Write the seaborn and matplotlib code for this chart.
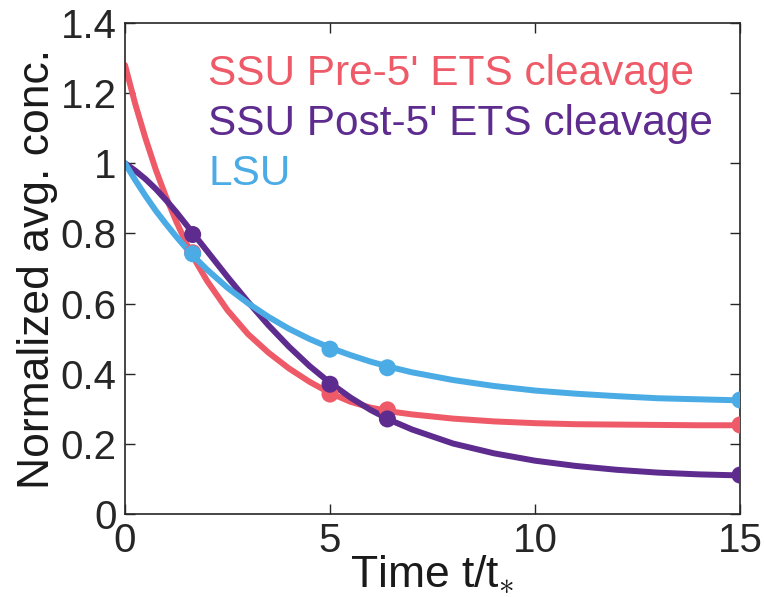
import numpy as np
import pandas as pd
import matplotlib
matplotlib.use("Agg")
import matplotlib.pyplot as plt
import seaborn as sns

# ---- data ----
series_names = ["SSU Pre-5' ETS cleavage", "SSU Post-5' ETS cleavage", "LSU"]
colors = ["#EE5A68", "#5E2B8E", "#4AABE5"]

t_curve = [0, 0.25, 0.5, 0.75, 1, 1.25, 1.5, 1.75, 2, 2.5, 3, 3.5, 4, 4.5, 5,
           5.5, 6, 6.5, 7, 8, 9, 10, 11, 12, 13, 14, 15]
pre_curve = [1.28, 1.169, 1.071, 0.982, 0.904, 0.834, 0.771, 0.715, 0.665, 0.581,
             0.513, 0.460, 0.415, 0.377, 0.345, 0.320, 0.303, 0.292, 0.284, 0.272,
             0.264, 0.259, 0.256, 0.255, 0.254, 0.253, 0.253]
post_curve = [1.0, 0.979, 0.955, 0.927, 0.895, 0.861, 0.824, 0.787, 0.750, 0.676,
              0.605, 0.538, 0.477, 0.422, 0.374, 0.332, 0.296, 0.266, 0.241, 0.201,
              0.173, 0.152, 0.137, 0.126, 0.118, 0.113, 0.110]
lsu_curve = [1.0, 0.952, 0.907, 0.865, 0.827, 0.791, 0.757, 0.726, 0.697, 0.645,
             0.601, 0.562, 0.528, 0.499, 0.474, 0.453, 0.434, 0.418, 0.404, 0.382,
             0.365, 0.352, 0.343, 0.336, 0.330, 0.327, 0.324]

t_points = [1.65, 5, 6.4, 15]
pre_points = [0.745, 0.342, 0.297, 0.254]
post_points = [0.797, 0.370, 0.271, 0.111]
lsu_points = [0.742, 0.470, 0.417, 0.325]

xticks = [0, 5, 10, 15]
yticks = [0, 0.2, 0.4, 0.6, 0.8, 1, 1.2, 1.4]
ytick_labels = ["0", "0.2", "0.4", "0.6", "0.8", "1", "1.2", "1.4"]

# ---- build tables ----
curves = pd.DataFrame({
    "t": t_curve * 3,
    "y": pre_curve + post_curve + lsu_curve,
    "series": [s for s in series_names for _ in t_curve],
})
points = pd.DataFrame({
    "t": t_points * 3,
    "y": pre_points + post_points + lsu_points,
    "series": [s for s in series_names for _ in t_points],
})
palette = dict(zip(series_names, colors))

sns.set_theme(style="ticks")
plt.rcParams["font.family"] = ["Liberation Sans", "DejaVu Sans"]
plt.rcParams["mathtext.fontset"] = "custom"
plt.rcParams["mathtext.rm"] = "Liberation Sans"
plt.rcParams["mathtext.it"] = "Liberation Sans:italic"

fig = plt.figure(figsize=(7.64, 5.97), dpi=100)
ax = fig.add_axes([125 / 764, 1 - 514 / 597, 615 / 764, 491 / 597])

sns.lineplot(data=curves, x="t", y="y", hue="series", palette=palette,
             hue_order=series_names, linewidth=4.3, sort=False, legend=False,
             ax=ax, zorder=2)
sns.scatterplot(data=points, x="t", y="y", hue="series", palette=palette,
                hue_order=series_names, s=150, linewidth=0, legend=False,
                ax=ax, zorder=3)

ax.set_xlim(0, 15)
ax.set_ylim(0, 1.4)
ax.set_xticks(xticks)
ax.set_xticklabels([str(v) for v in xticks])
ax.set_yticks(yticks)
ax.set_yticklabels(ytick_labels)
ax.tick_params(direction="in", length=7, width=1, top=True, right=True,
               labelsize=29, colors="#262626", pad=6)
for sp in ax.spines.values():
    sp.set_visible(True)
    sp.set_linewidth(1.2)
    sp.set_color("#262626")

ax.set_xlabel(r"Time t/t$_{\ast}$", fontsize=32, color="#1a1a1a", labelpad=-4)
ax.set_ylabel("Normalized avg. conc.", fontsize=32, color="#1a1a1a", labelpad=2)

ys = [0.874, 0.772, 0.670]
for name, col, yy in zip(series_names, colors, ys):
    ax.text(0.135, yy, name, color=col, fontsize=30.5, transform=ax.transAxes,
            ha="left", va="baseline")

fig.savefig("out.png", dpi=100)
